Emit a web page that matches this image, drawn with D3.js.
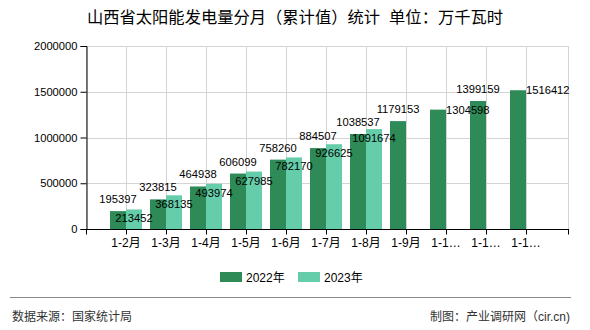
<!DOCTYPE html>
<html><head><meta charset="utf-8">
<script src="https://cdn.jsdelivr.net/npm/d3@7"></script>
<style>
body{margin:0;background:#fff;}
svg text{font-family:"Liberation Sans","Noto Sans CJK SC",sans-serif;}
</style></head>
<body><svg id="c" width="590" height="330"></svg>
<script>
const categories = ["1-2月","1-3月","1-4月","1-5月","1-6月","1-7月","1-8月","1-9月","1-10月","1-11月","1-12月"];
const values2022 = [195397,323815,464938,606099,758260,884507,1038537,1179153,1304598,1399159,1516412];
const values2023 = [213452,368135,493974,627985,782170,926625,1091674];
const yTicks = [0,500000,1000000,1500000,2000000];
const seriesNames = ["2022年","2023年"];
const title = "山西省太阳能发电量分月（累计值）统计\u00a0\u00a0单位：万千瓦时";
const source = "数据来源：国家统计局";
const credit = "制图：产业调研网（cir.cn)";

const colors = ["#2e8b57","#66cdaa"];
const label2022Place = ["top","top","top","top","top","top","top","top","right","top","right"];
const svg = d3.select("#c");
const L=86,R=566,T=46,B=229, bw=16;
const cjk = '"Noto Sans CJK SC",sans-serif';

const x = d3.scalePoint().domain(categories).range([L,R]).padding(1);
const y = d3.scaleLinear().domain([0,2000000]).range([B,T]);

// grid
const grid = svg.append("g").attr("stroke","#d4d4d4").attr("stroke-width",1);
yTicks.forEach(t=>grid.append("line").attr("x1",L).attr("x2",R+2).attr("y1",Math.round(y(t))+0.5).attr("y2",Math.round(y(t))+0.5));
const xs = [L].concat(categories.map(c=>x(c))).concat([R+2]);
xs.forEach(v=>grid.append("line").attr("x1",Math.round(v)+0.5).attr("x2",Math.round(v)+0.5).attr("y1",T).attr("y2",B));

// bars
svg.append("g").selectAll("rect").data(values2022).join("rect")
 .attr("x",(d,i)=>x(categories[i])-bw).attr("width",bw)
 .attr("y",d=>y(d)).attr("height",d=>B-y(d)).attr("fill",colors[0]);
svg.append("g").selectAll("rect").data(values2023).join("rect")
 .attr("x",(d,i)=>x(categories[i])).attr("width",bw)
 .attr("y",d=>y(d)).attr("height",d=>B-y(d)).attr("fill",colors[1]);

// axes
const yAxis = d3.axisLeft(y).tickValues(yTicks).tickSize(6).tickPadding(3).tickFormat(d3.format("d"));
const ga = svg.append("g").attr("transform",`translate(${L+0.5},0)`).call(yAxis);
ga.select(".domain").attr("stroke","#000");
ga.selectAll("line").attr("stroke","#000");
ga.selectAll("text").attr("font-size",11.2).attr("fill","#000").attr("font-family",'"Liberation Sans",sans-serif');

const gx = svg.append("g").attr("transform",`translate(0,${B+0.5})`);
gx.append("line").attr("x1",L).attr("x2",R+3).attr("stroke","#000");
xs.forEach(v=>gx.append("line").attr("x1",Math.round(v)+0.5).attr("x2",Math.round(v)+0.5).attr("y1",0).attr("y2",5).attr("stroke","#000"));
gx.selectAll("text.xl").data(categories).join("text").attr("class","xl")
 .attr("x",d=>x(d)).attr("y",17).attr("text-anchor","middle").attr("font-size",12)
 .attr("font-family",cjk).attr("fill","#000")
 .text(d=>d.length>4? d.slice(0,3)+"…" : d);

// labels
const lab = svg.append("g").attr("font-size",11.2).attr("fill","#000").attr("font-family",'"Liberation Sans",sans-serif');
values2022.forEach((v,i)=>{
  const cx = x(categories[i])-bw/2;
  if(label2022Place[i]==="right"){
    lab.append("text").attr("x",cx+bw/2).attr("y",y(v)+4).attr("text-anchor","start").text(v);
  } else {
    lab.append("text").attr("x",cx).attr("y",y(v)-8).attr("text-anchor","middle").text(v);
  }
});
values2023.forEach((v,i)=>{
  const cx = x(categories[i])+bw/2;
  lab.append("text").attr("x",cx).attr("y",y(v)+13).attr("text-anchor","middle").text(v);
});

// title
svg.append("text").attr("x",295).attr("y",23).attr("text-anchor","middle")
 .attr("font-size",16.3).attr("font-family",cjk).attr("fill","#000").text(title);

// legend
const lg = svg.append("g");
[[220,0],[298,1]].forEach(([lx,k])=>{
  lg.append("rect").attr("x",lx).attr("y",272).attr("width",22).attr("height",10).attr("fill",colors[k]);
  lg.append("text").attr("x",lx+26).attr("y",281.5).attr("font-size",12).attr("font-family",cjk).attr("fill","#000").text(seriesNames[k]);
});

// footer
svg.append("line").attr("x1",10).attr("x2",571).attr("y1",297.5).attr("y2",297.5).attr("stroke","#888").attr("stroke-width",1);
svg.append("text").attr("x",12).attr("y",321).attr("font-size",12).attr("font-family",cjk).attr("fill","#333").text(source);
svg.append("text").attr("x",570).attr("y",321).attr("text-anchor","end").attr("font-size",12).attr("font-family",cjk).attr("fill","#333").text(credit);
</script></body></html>
